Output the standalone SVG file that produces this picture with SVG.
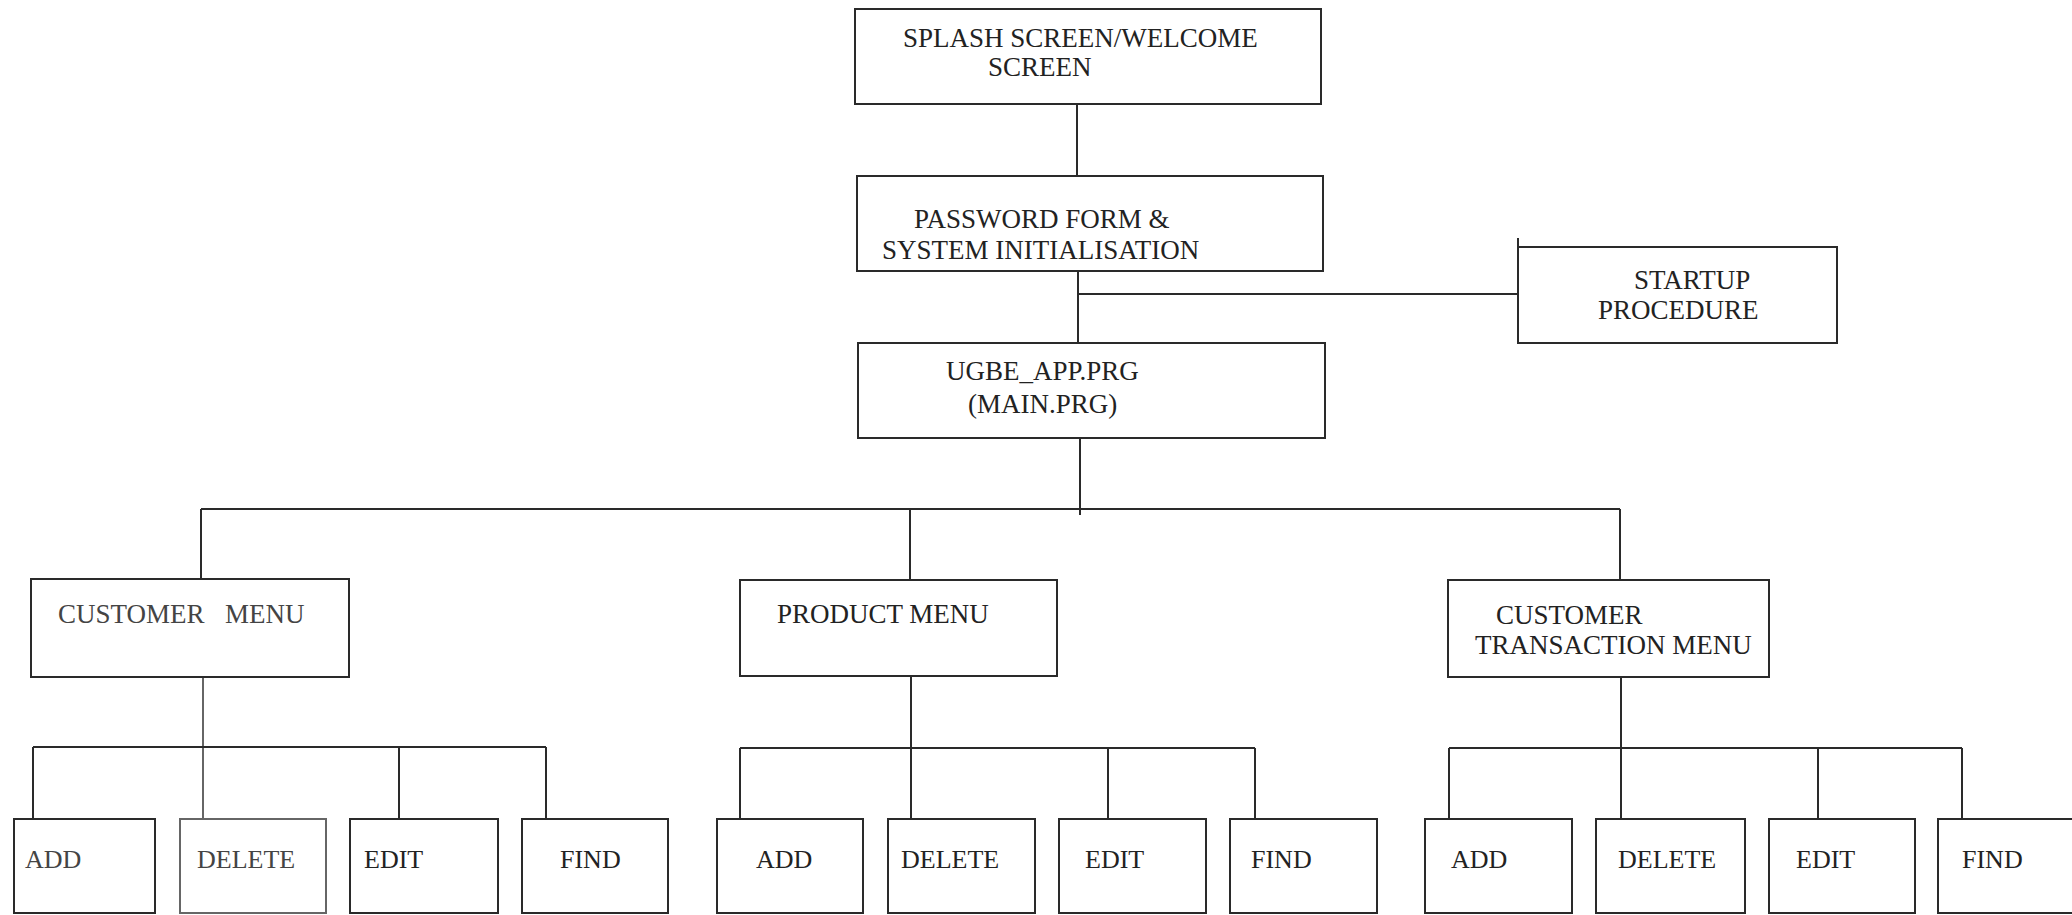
<svg xmlns="http://www.w3.org/2000/svg" width="2072" height="915" viewBox="0 0 2072 915">
<style>
  .box { fill: #ffffff; stroke: #2a2a2a; stroke-width: 2; }
  .lbl { font-family: "Liberation Serif", "Times New Roman", serif; font-size: 27px; fill: #222222; }
  .sm { font-size: 26px; }
  .conn { fill: none; stroke: #2a2a2a; stroke-width: 2; }
  .gray { stroke: #666666; }
  .gtxt { fill: #444444; }
</style>
<rect x="0" y="0" width="2072" height="915" fill="#ffffff"/>

<g id="connectors">
  <path class="conn" d="M1077 104 V176"/>
  <path class="conn" d="M1078 271 V343"/>
  <path class="conn" d="M1078 294 H1518"/>
  <path class="conn" d="M1518 247 V238"/>
  <path class="conn" d="M1080 438 V515"/>
  <path class="conn" d="M201 509 H1620"/>
  <path class="conn" d="M201 509 V579"/>
  <path class="conn" d="M910 509 V580"/>
  <path class="conn" d="M1620 509 V580"/>
  <!-- customer menu children -->
  <path class="conn gray" d="M203 677 V819"/>
  <path class="conn" d="M33 747 H546"/>
  <path class="conn" d="M33 747 V819"/>
  <path class="conn" d="M399 747 V819"/>
  <path class="conn" d="M546 747 V819"/>
  <!-- product menu children -->
  <path class="conn" d="M911 676 V819"/>
  <path class="conn" d="M740 748 H1255"/>
  <path class="conn" d="M740 748 V819"/>
  <path class="conn" d="M1108 748 V819"/>
  <path class="conn" d="M1255 748 V819"/>
  <!-- transaction menu children -->
  <path class="conn" d="M1621 677 V819"/>
  <path class="conn" d="M1449 748 H1962"/>
  <path class="conn" d="M1449 748 V819"/>
  <path class="conn" d="M1818 748 V819"/>
  <path class="conn" d="M1962 748 V819"/>
</g>

<g id="splash">
  <rect class="box" x="855" y="9" width="466" height="95"/>
  <text class="lbl" x="903" y="47">SPLASH SCREEN/WELCOME</text>
  <text class="lbl" x="988" y="76">SCREEN</text>
</g>

<g id="password">
  <rect class="box" x="857" y="176" width="466" height="95"/>
  <text class="lbl" x="914" y="228">PASSWORD FORM &amp;</text>
  <text class="lbl" x="882" y="259">SYSTEM INITIALISATION</text>
</g>

<g id="startup">
  <rect class="box" x="1518" y="247" width="319" height="96"/>
  <text class="lbl" x="1634" y="289">STARTUP</text>
  <text class="lbl" x="1598" y="319">PROCEDURE</text>
</g>

<g id="main">
  <rect class="box" x="858" y="343" width="467" height="95"/>
  <text class="lbl" x="946" y="380">UGBE_APP.PRG</text>
  <text class="lbl" x="968" y="413">(MAIN.PRG)</text>
</g>

<g id="customer-menu">
  <rect class="box" x="31" y="579" width="318" height="98"/>
  <text class="lbl gtxt" x="58" y="623">CUSTOMER<tspan x="225">MENU</tspan></text>
</g>

<g id="product-menu">
  <rect class="box" x="740" y="580" width="317" height="96"/>
  <text class="lbl" x="777" y="623">PRODUCT MENU</text>
</g>

<g id="transaction-menu">
  <rect class="box" x="1448" y="580" width="321" height="97"/>
  <text class="lbl" x="1496" y="624">CUSTOMER</text>
  <text class="lbl" x="1475" y="654">TRANSACTION MENU</text>
</g>

<g id="cust-add">
  <rect class="box" x="14" y="819" width="141" height="94"/>
  <text class="lbl sm gtxt" x="25" y="868">ADD</text>
</g>
<g id="cust-delete">
  <rect class="box gray" x="180" y="819" width="146" height="94"/>
  <text class="lbl sm gtxt" x="197" y="868">DELETE</text>
</g>
<g id="cust-edit">
  <rect class="box" x="350" y="819" width="148" height="94"/>
  <text class="lbl sm" x="364" y="868">EDIT</text>
</g>
<g id="cust-find">
  <rect class="box" x="522" y="819" width="146" height="94"/>
  <text class="lbl sm" x="560" y="868">FIND</text>
</g>

<g id="prod-add">
  <rect class="box" x="717" y="819" width="146" height="94"/>
  <text class="lbl sm" x="756" y="868">ADD</text>
</g>
<g id="prod-delete">
  <rect class="box" x="888" y="819" width="147" height="94"/>
  <text class="lbl sm" x="901" y="868">DELETE</text>
</g>
<g id="prod-edit">
  <rect class="box" x="1059" y="819" width="147" height="94"/>
  <text class="lbl sm" x="1085" y="868">EDIT</text>
</g>
<g id="prod-find">
  <rect class="box" x="1230" y="819" width="147" height="94"/>
  <text class="lbl sm" x="1251" y="868">FIND</text>
</g>

<g id="trans-add">
  <rect class="box" x="1425" y="819" width="147" height="94"/>
  <text class="lbl sm" x="1451" y="868">ADD</text>
</g>
<g id="trans-delete">
  <rect class="box" x="1596" y="819" width="149" height="94"/>
  <text class="lbl sm" x="1618" y="868">DELETE</text>
</g>
<g id="trans-edit">
  <rect class="box" x="1769" y="819" width="146" height="94"/>
  <text class="lbl sm" x="1796" y="868">EDIT</text>
</g>
<g id="trans-find">
  <rect class="box" x="1938" y="819" width="147" height="94"/>
  <text class="lbl sm" x="1962" y="868">FIND</text>
</g>
</svg>
